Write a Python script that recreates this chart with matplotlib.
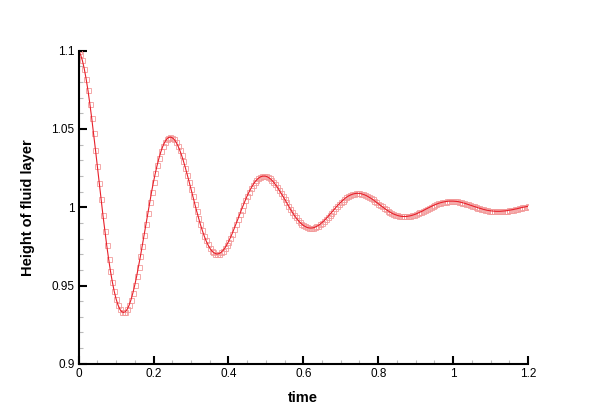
import numpy as np
import matplotlib.pyplot as plt
from matplotlib.ticker import MultipleLocator

plt.rcParams['font.family'] = ['Liberation Sans', 'DejaVu Sans']

# time step between samples in the reference is 0.005
t_start = 0.0
t_step = 0.005

# height of fluid layer (241 samples, t = 0 .. 1.2)
height = [
    1.1000, 1.0976, 1.0938, 1.0886, 1.0821, 1.0746, 1.0661, 1.0569, 1.0471, 1.0368,
    1.0263, 1.0157, 1.0052, 0.9949, 0.9851, 0.9758, 0.9672, 0.9593, 0.9524, 0.9464,
    0.9415, 0.9377, 0.9349, 0.9333, 0.9328, 0.9333, 0.9349, 0.9375, 0.9410, 0.9453,
    0.9503, 0.9559, 0.9621, 0.9686, 0.9755, 0.9825, 0.9895, 0.9966, 1.0034, 1.0100,
    1.0162, 1.0219, 1.0271, 1.0317, 1.0357, 1.0390, 1.0416, 1.0434, 1.0445, 1.0448,
    1.0444, 1.0434, 1.0417, 1.0394, 1.0365, 1.0332, 1.0294, 1.0253, 1.0209, 1.0164,
    1.0117, 1.0070, 1.0023, 0.9977, 0.9934, 0.9892, 0.9854, 0.9819, 0.9788, 0.9762,
    0.9740, 0.9723, 0.9711, 0.9704, 0.9701, 0.9704, 0.9711, 0.9722, 0.9738, 0.9757,
    0.9779, 0.9804, 0.9831, 0.9861, 0.9891, 0.9922, 0.9954, 0.9985, 1.0015, 1.0044,
    1.0072, 1.0097, 1.0120, 1.0141, 1.0159, 1.0173, 1.0185, 1.0193, 1.0198, 1.0199,
    1.0198, 1.0193, 1.0185, 1.0175, 1.0162, 1.0147, 1.0131, 1.0112, 1.0093, 1.0073,
    1.0052, 1.0031, 1.0010, 0.9990, 0.9971, 0.9952, 0.9935, 0.9920, 0.9906, 0.9894,
    0.9884, 0.9877, 0.9871, 0.9868, 0.9867, 0.9868, 0.9871, 0.9877, 0.9883, 0.9892,
    0.9902, 0.9913, 0.9925, 0.9938, 0.9952, 0.9965, 0.9979, 0.9993, 1.0007, 1.0020,
    1.0032, 1.0043, 1.0054, 1.0063, 1.0071, 1.0077, 1.0082, 1.0086, 1.0088, 1.0089,
    1.0088, 1.0086, 1.0082, 1.0078, 1.0072, 1.0065, 1.0058, 1.0050, 1.0041, 1.0032,
    1.0023, 1.0014, 1.0005, 0.9996, 0.9987, 0.9979, 0.9971, 0.9964, 0.9958, 0.9953,
    0.9949, 0.9945, 0.9943, 0.9941, 0.9941, 0.9941, 0.9943, 0.9945, 0.9948, 0.9952,
    0.9956, 0.9961, 0.9967, 0.9972, 0.9978, 0.9985, 0.9991, 0.9997, 1.0003, 1.0009,
    1.0014, 1.0019, 1.0024, 1.0028, 1.0031, 1.0034, 1.0036, 1.0038, 1.0039, 1.0039,
    1.0039, 1.0038, 1.0037, 1.0035, 1.0032, 1.0029, 1.0026, 1.0022, 1.0018, 1.0014,
    1.0010, 1.0006, 1.0002, 0.9998, 0.9994, 0.9991, 0.9987, 0.9984, 0.9981, 0.9979,
    0.9977, 0.9976, 0.9975, 0.9974, 0.9974, 0.9974, 0.9975, 0.9976, 0.9977, 0.9979,
    0.9981, 0.9983, 0.9985, 0.9988, 0.9990, 0.9993, 0.9996, 0.9999, 1.0001, 1.0004,
    1.0006,
]
time = t_start + t_step * np.arange(len(height))

x_ticks = [0, 0.2, 0.4, 0.6, 0.8, 1.0, 1.2]
x_labels = ['0', '0.2', '0.4', '0.6', '0.8', '1', '1.2']
y_ticks = [0.9, 0.95, 1.0, 1.05, 1.1]
y_labels = ['0.9', '0.95', '1', '1.05', '1.1']

fig = plt.figure(figsize=(6, 4.12), dpi=100)
ax = fig.add_axes([0.131, 0.117, 0.749, 0.760])

# hollow squares first, red line on top
ax.plot(time, height, linestyle='none', marker='s', markersize=3.6,
        markerfacecolor='none', markeredgecolor='#f29a9a', markeredgewidth=0.7,
        alpha=0.85)
ax.plot(time, height, color='#e8202a', linewidth=0.8)

ax.set_xlim(0, 1.2)
ax.set_ylim(0.9, 1.1)
ax.set_xticks(x_ticks)
ax.set_xticklabels(x_labels)
ax.set_yticks(y_ticks)
ax.set_yticklabels(y_labels)
ax.xaxis.set_minor_locator(MultipleLocator(0.05))
ax.yaxis.set_minor_locator(MultipleLocator(0.01))

for side in ['top', 'right']:
    ax.spines[side].set_visible(False)
for side in ['left', 'bottom']:
    ax.spines[side].set_linewidth(1.5)
    ax.spines[side].set_color('black')

ax.tick_params(which='major', direction='in', length=6, width=1.5,
               labelsize=8.5, pad=3)
ax.tick_params(which='minor', direction='in', length=3, width=0.8,
               color='#bbbbbb')

ax.set_xlabel('time', fontsize=10.5, fontweight='bold', labelpad=8)
ax.set_ylabel('Height of fluid layer', fontsize=10.5, fontweight='bold',
              labelpad=12)

fig.savefig('out.png', dpi=100)
